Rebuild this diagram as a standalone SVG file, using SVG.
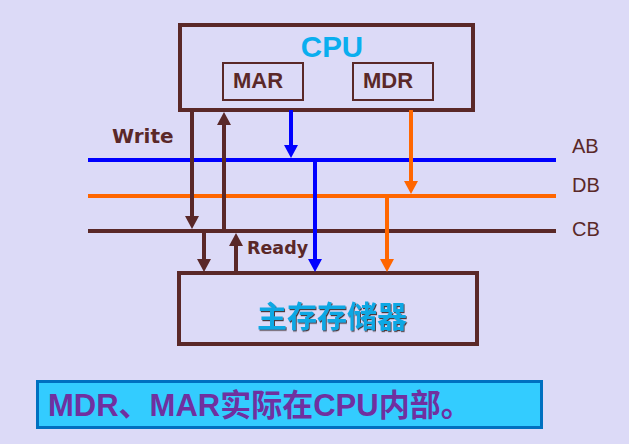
<svg xmlns="http://www.w3.org/2000/svg" width="629" height="444" viewBox="0 0 629 444">
<style>
.box{fill:none;stroke:#5A2828;stroke-width:4}
.reg{fill:none;stroke:#5A2828;stroke-width:2}
.bus{stroke-width:4;fill:none}
.wb{stroke:#5A2828;stroke-width:4;fill:none}
.wblue{stroke:#0000FF;stroke-width:4;fill:none}
.worg{stroke:#FF6600;stroke-width:4;fill:none}
.lat{font-family:"Liberation Sans",Arial,sans-serif}
.lbl{font-family:"Liberation Sans",Arial,sans-serif;font-size:20px;fill:#5A2828}
.bl{font-family:"DejaVu Sans",Verdana,sans-serif;font-weight:bold;fill:#5A2828}
</style>
<defs>
<marker id="ab" markerUnits="userSpaceOnUse" markerWidth="14" markerHeight="14" viewBox="0 0 14 14" refX="0" refY="7" orient="auto"><path d="M0,0 L13,7 L0,14 z" fill="#5A2828"/></marker>
<marker id="au" markerUnits="userSpaceOnUse" markerWidth="14" markerHeight="14" viewBox="0 0 14 14" refX="0" refY="7" orient="auto"><path d="M0,0 L13,7 L0,14 z" fill="#0000FF"/></marker>
<marker id="ao" markerUnits="userSpaceOnUse" markerWidth="14" markerHeight="14" viewBox="0 0 14 14" refX="0" refY="7" orient="auto"><path d="M0,0 L13,7 L0,14 z" fill="#FF6600"/></marker>
<filter id="sh" x="-5%" y="-10%" width="110%" height="130%"><feDropShadow dx="1" dy="1.2" stdDeviation="0.3" flood-color="#3A2A2A" flood-opacity="0.9"/></filter>
</defs>
<rect width="629" height="444" fill="#DCDAF7"/>

<g id="cpu">
<rect class="box" x="180" y="25" width="293" height="85"/>
<text x="332" y="56.5" text-anchor="middle" class="lat" font-size="29.5" font-weight="bold" fill="#0AAEEF">CPU</text>
</g>
<g id="mar">
<rect class="reg" x="223" y="63" width="80" height="37"/>
<text x="258" y="88" text-anchor="middle" class="lat" font-size="22" font-weight="bold" fill="#5A2828">MAR</text>
</g>
<g id="mdr">
<rect class="reg" x="353" y="63" width="80" height="37"/>
<text x="388" y="88" text-anchor="middle" class="lat" font-size="22" font-weight="bold" fill="#5A2828">MDR</text>
</g>
<g id="memory">
<rect class="box" x="179" y="273" width="298" height="71"/>
<text x="332" y="327" text-anchor="middle" font-family="'Noto Sans CJK SC',sans-serif" font-size="30" font-weight="bold" fill="#10A8E4" filter="url(#sh)">主存存储器</text>
</g>
<g id="buses">
<line class="bus" x1="88" y1="160" x2="556" y2="160" stroke="#0000FF"/>
<line class="bus" x1="88" y1="196" x2="556" y2="196" stroke="#FF6600"/>
<line class="bus" x1="88" y1="231" x2="556" y2="231" stroke="#5A2828"/>
<text class="lbl" x="572" y="153">AB</text>
<text class="lbl" x="572" y="192">DB</text>
<text class="lbl" x="572" y="236">CB</text>
</g>
<g id="connectors">
<line class="wb" x1="192" y1="110" x2="192" y2="216" marker-end="url(#ab)"/>
<line class="wb" x1="224" y1="231" x2="224" y2="125" marker-end="url(#ab)"/>
<line class="wb" x1="204" y1="231" x2="204" y2="259" marker-end="url(#ab)"/>
<line class="wb" x1="236" y1="273" x2="236" y2="246" marker-end="url(#ab)"/>
<line class="wblue" x1="291" y1="110" x2="291" y2="145" marker-end="url(#au)"/>
<line class="wblue" x1="315" y1="160" x2="315" y2="259" marker-end="url(#au)"/>
<line class="worg" x1="411" y1="110" x2="411" y2="181" marker-end="url(#ao)"/>
<line class="worg" x1="387" y1="196" x2="387" y2="259" marker-end="url(#ao)"/>
<text class="bl" x="112" y="143" font-size="20">Write</text>
<text class="bl" x="247" y="254" font-size="17.5">Ready</text>
</g>
<g id="note">
<rect x="37.5" y="381.5" width="504" height="46" fill="#33CCFF" stroke="#0070C0" stroke-width="3"/>
<text x="48" y="416" font-family="'Liberation Sans','Noto Sans CJK SC',sans-serif" font-size="31" font-weight="bold" fill="#7030A0">MDR、MAR实际在CPU内部。</text>
</g>
</svg>
